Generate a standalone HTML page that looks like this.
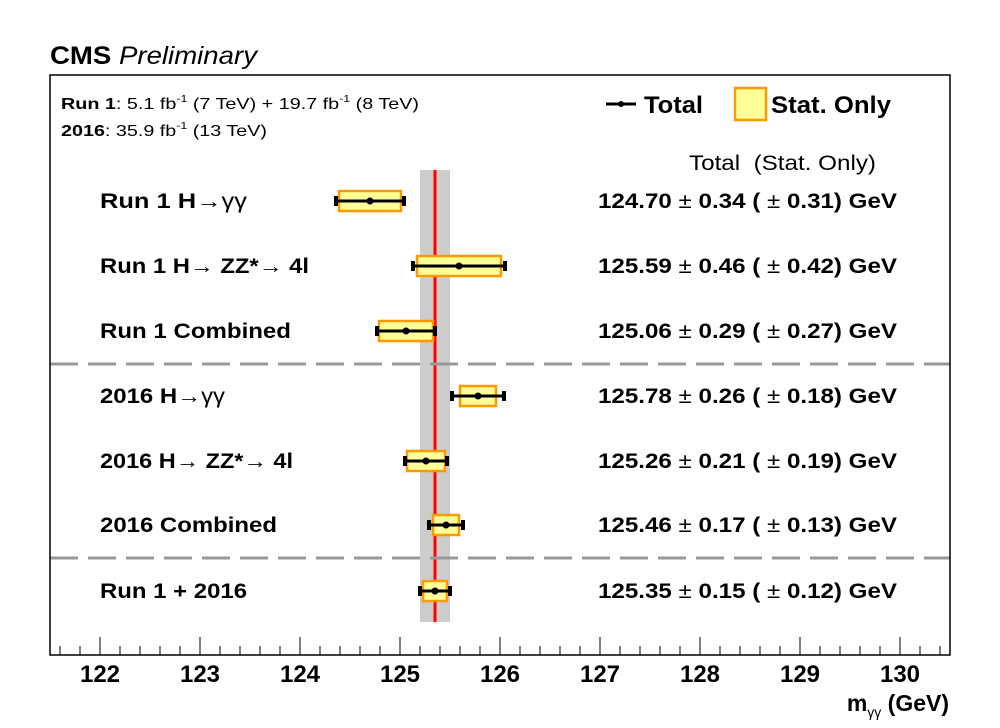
<!DOCTYPE html>
<html><head><meta charset="utf-8"><style>body{margin:0;background:#fff}svg{display:block}text{font-family:"Liberation Sans",Arial,sans-serif}</style></head><body>
<svg width="1000" height="728" viewBox="0 0 1000 728" xmlns="http://www.w3.org/2000/svg">
<rect x="0" y="0" width="1000" height="728" fill="#fff"/>
<text x="50" y="64" font-size="25" font-weight="bold" textLength="207" lengthAdjust="spacingAndGlyphs">CMS <tspan font-weight="normal" font-style="italic">Preliminary</tspan></text>
<rect x="420" y="170" width="30" height="452" fill="#cccccc"/>
<line x1="435" y1="170" x2="435" y2="622" stroke="#ff0000" stroke-width="3"/>
<line x1="50" y1="364" x2="950" y2="364" stroke="#999" stroke-width="3" stroke-dasharray="28,10"/>
<line x1="50" y1="558" x2="950" y2="558" stroke="#999" stroke-width="3" stroke-dasharray="28,10"/>
<g>
<g><rect x="339" y="191" width="62" height="20" fill="#ffff99" stroke="#ff9900" stroke-width="2.5"/><line x1="336" y1="201" x2="404" y2="201" stroke="#000" stroke-width="3"/><rect x="334" y="196" width="4" height="10"/><rect x="402" y="196" width="4" height="10"/><circle cx="370" cy="201" r="3.5"/></g>
<g><rect x="417" y="256" width="84" height="20" fill="#ffff99" stroke="#ff9900" stroke-width="2.5"/><line x1="413" y1="266" x2="505" y2="266" stroke="#000" stroke-width="3"/><rect x="411" y="261" width="4" height="10"/><rect x="503" y="261" width="4" height="10"/><circle cx="459" cy="266" r="3.5"/></g>
<g><rect x="379" y="321" width="54" height="20" fill="#ffff99" stroke="#ff9900" stroke-width="2.5"/><line x1="377" y1="331" x2="435" y2="331" stroke="#000" stroke-width="3"/><rect x="375" y="326" width="4" height="10"/><rect x="433" y="326" width="4" height="10"/><circle cx="406" cy="331" r="3.5"/></g>
<g><rect x="460" y="386" width="36" height="20" fill="#ffff99" stroke="#ff9900" stroke-width="2.5"/><line x1="452" y1="396" x2="504" y2="396" stroke="#000" stroke-width="3"/><rect x="450" y="391" width="4" height="10"/><rect x="502" y="391" width="4" height="10"/><circle cx="478" cy="396" r="3.5"/></g>
<g><rect x="407" y="451" width="38" height="20" fill="#ffff99" stroke="#ff9900" stroke-width="2.5"/><line x1="405" y1="461" x2="447" y2="461" stroke="#000" stroke-width="3"/><rect x="403" y="456" width="4" height="10"/><rect x="445" y="456" width="4" height="10"/><circle cx="426" cy="461" r="3.5"/></g>
<g><rect x="433" y="515" width="26" height="20" fill="#ffff99" stroke="#ff9900" stroke-width="2.5"/><line x1="429" y1="525" x2="463" y2="525" stroke="#000" stroke-width="3"/><rect x="427" y="520" width="4" height="10"/><rect x="461" y="520" width="4" height="10"/><circle cx="446" cy="525" r="3.5"/></g>
<g><rect x="423" y="581" width="24" height="20" fill="#ffff99" stroke="#ff9900" stroke-width="2.5"/><line x1="420" y1="591" x2="450" y2="591" stroke="#000" stroke-width="3"/><rect x="418" y="586" width="4" height="10"/><rect x="448" y="586" width="4" height="10"/><circle cx="435" cy="591" r="3.5"/></g>
</g>
<g font-size="21" font-weight="bold" lengthAdjust="spacingAndGlyphs">
<text x="100" y="208" textLength="147" lengthAdjust="spacingAndGlyphs">Run 1 H<tspan font-weight="normal">→γγ</tspan></text>
<text x="100" y="273" textLength="209" lengthAdjust="spacingAndGlyphs">Run 1 H<tspan font-weight="normal">→</tspan> ZZ*<tspan font-weight="normal">→</tspan> 4l</text>
<text x="100" y="338" textLength="191" lengthAdjust="spacingAndGlyphs">Run 1 Combined</text>
<text x="100" y="403" textLength="125" lengthAdjust="spacingAndGlyphs">2016 H<tspan font-weight="normal">→γγ</tspan></text>
<text x="100" y="468" textLength="193" lengthAdjust="spacingAndGlyphs">2016 H<tspan font-weight="normal">→</tspan> ZZ*<tspan font-weight="normal">→</tspan> 4l</text>
<text x="100" y="532" textLength="177" lengthAdjust="spacingAndGlyphs">2016 Combined</text>
<text x="100" y="598" textLength="147" lengthAdjust="spacingAndGlyphs">Run 1 + 2016</text>
</g>
<g font-size="21" font-weight="bold">
<text x="598" y="208" textLength="299" lengthAdjust="spacingAndGlyphs">124.70 <tspan font-weight="normal">±</tspan> 0.34 ( <tspan font-weight="normal">±</tspan> 0.31) GeV</text>
<text x="598" y="273" textLength="299" lengthAdjust="spacingAndGlyphs">125.59 <tspan font-weight="normal">±</tspan> 0.46 ( <tspan font-weight="normal">±</tspan> 0.42) GeV</text>
<text x="598" y="338" textLength="299" lengthAdjust="spacingAndGlyphs">125.06 <tspan font-weight="normal">±</tspan> 0.29 ( <tspan font-weight="normal">±</tspan> 0.27) GeV</text>
<text x="598" y="403" textLength="299" lengthAdjust="spacingAndGlyphs">125.78 <tspan font-weight="normal">±</tspan> 0.26 ( <tspan font-weight="normal">±</tspan> 0.18) GeV</text>
<text x="598" y="468" textLength="299" lengthAdjust="spacingAndGlyphs">125.26 <tspan font-weight="normal">±</tspan> 0.21 ( <tspan font-weight="normal">±</tspan> 0.19) GeV</text>
<text x="598" y="532" textLength="299" lengthAdjust="spacingAndGlyphs">125.46 <tspan font-weight="normal">±</tspan> 0.17 ( <tspan font-weight="normal">±</tspan> 0.13) GeV</text>
<text x="598" y="598" textLength="299" lengthAdjust="spacingAndGlyphs">125.35 <tspan font-weight="normal">±</tspan> 0.15 ( <tspan font-weight="normal">±</tspan> 0.12) GeV</text>
</g>
<text x="689" y="170" font-size="21" textLength="187" lengthAdjust="spacingAndGlyphs" xml:space="preserve">Total  (Stat. Only)</text>
<text x="61" y="109" font-size="16" textLength="358" lengthAdjust="spacingAndGlyphs"><tspan font-weight="bold">Run 1</tspan>: 5.1 fb<tspan font-size="10" dy="-7">-1</tspan><tspan dy="7"> (7 TeV) + 19.7 fb</tspan><tspan font-size="10" dy="-7">-1</tspan><tspan dy="7"> (8 TeV)</tspan></text>
<text x="61" y="136" font-size="16" textLength="206" lengthAdjust="spacingAndGlyphs"><tspan font-weight="bold">2016</tspan>: 35.9 fb<tspan font-size="10" dy="-7">-1</tspan><tspan dy="7"> (13 TeV)</tspan></text>
<line x1="606" y1="104" x2="636" y2="104" stroke="#000" stroke-width="3"/><circle cx="621" cy="104" r="3"/>
<text x="644" y="113" font-size="24" font-weight="bold" textLength="59" lengthAdjust="spacingAndGlyphs">Total</text>
<rect x="735" y="88" width="31" height="32" fill="#ffff99" stroke="#ff9900" stroke-width="2.5"/>
<text x="771" y="113" font-size="24" font-weight="bold" textLength="120" lengthAdjust="spacingAndGlyphs">Stat. Only</text>
<rect x="50" y="75" width="900" height="580" fill="none" stroke="#000" stroke-width="1.5"/>
<g stroke="#000" stroke-width="1">
<path d="M60 655v-9M80 655v-9M100 655v-18M120 655v-9M140 655v-9M160 655v-9M180 655v-9M200 655v-18M220 655v-9M240 655v-9M260 655v-9M280 655v-9M300 655v-18M320 655v-9M340 655v-9M360 655v-9M380 655v-9M400 655v-18M420 655v-9M440 655v-9M460 655v-9M480 655v-9M500 655v-18M520 655v-9M540 655v-9M560 655v-9M580 655v-9M600 655v-18M620 655v-9M640 655v-9M660 655v-9M680 655v-9M700 655v-18M720 655v-9M740 655v-9M760 655v-9M780 655v-9M800 655v-18M820 655v-9M840 655v-9M860 655v-9M880 655v-9M900 655v-18M920 655v-9M940 655v-9"/>
</g>
<g font-size="24" font-weight="bold" text-anchor="middle">
<text x="100" y="682">122</text><text x="200" y="682">123</text><text x="300" y="682">124</text><text x="400" y="682">125</text><text x="500" y="682">126</text><text x="600" y="682">127</text><text x="700" y="682">128</text><text x="800" y="682">129</text><text x="900" y="682">130</text>
</g>
<text x="949" y="711" font-size="23" font-weight="bold" text-anchor="end">m<tspan font-size="14" font-weight="normal" dy="6">γγ</tspan><tspan dy="-6"> (GeV)</tspan></text>
</svg>
</body></html>
